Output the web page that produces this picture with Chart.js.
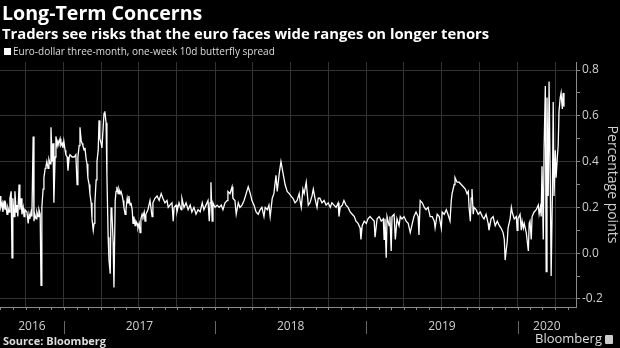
<!DOCTYPE html>
<html>
<head>
<meta charset="utf-8">
<script src="https://cdn.jsdelivr.net/npm/chart.js@4.4.0/dist/chart.umd.min.js"></script>
<style>
  body { margin: 0; background: #000; }
  #wrap { position: relative; width: 620px; height: 348px; overflow: hidden; font-family: 'Open Sans', sans-serif; color: #fff; }
  #chartBox { position: absolute; left: 0; top: 0; width: 620px; height: 348px; }
  .title { position: absolute; left: 2px; top: 0px; font-size: 19.6px; line-height: 26px; font-weight: bold; }
  .subtitle { position: absolute; left: 2px; top: 23px; font-size: 14.8px; line-height: 20px; font-weight: bold; }
  .legend { position: absolute; left: 4px; top: 45px; font-size: 10px; line-height: 13px; color: #ddd; }
  .legend i { display: inline-block; width: 7px; height: 7px; background: #fff; margin-right: 2px; }
  .source { position: absolute; left: 3px; top: 334px; font-size: 11px; line-height: 14px; font-weight: bold; color: #ddd; }
  .logo { position: absolute; right: 7px; top: 330px; font-size: 13px; line-height: 16px; color: #ddd; }
  .logo b { display: inline-block; width: 8px; height: 9px; background: #ccc; border-radius: 1px; margin-left: 3px; vertical-align: -1px; }
</style>
</head>
<body>
<div id="wrap">
  <div id="chartBox"><canvas id="graficoSpread"></canvas></div>
  <div class="title">Long-Term Concerns</div>
  <div class="subtitle">Traders see risks that the euro faces wide ranges on longer tenors</div>
  <div class="legend"><i></i>Euro-dollar three-month, one-week 10d butterfly spread</div>
  <div class="source">Source: Bloomberg</div>
  <div class="logo">Bloomberg<b></b></div>
</div>
<script>
// dias contados a partir de 31/07/2016
const startDate = '2016-07-31';
const endDay = 1390;
const years = [2016, 2017, 2018, 2019, 2020];
const yTicks = [-0.2, -0.1, 0, 0.1, 0.2, 0.3, 0.4, 0.5, 0.6, 0.7, 0.8];

const daysFromStart = [
  0, 2, 5, 7, 10, 12, 14, 17, 19, 22, 24, 27, 29, 31, 34, 36, 39, 41, 43, 46, 48, 51, 53, 56, 58, 60,
  65, 68, 70, 72, 75, 77, 80, 82, 84, 87, 89, 92, 94, 97, 99, 101, 104, 106, 109, 111, 113, 116, 118,
  121, 123, 126, 128, 130, 133, 135, 138, 140, 142, 145, 147, 150, 152, 154, 157, 159, 162, 164, 167,
  169, 174, 179, 183, 186, 188, 191, 193, 196, 198, 200, 203, 205, 208, 210, 212, 215, 217, 220, 222,
  225, 227, 229, 232, 234, 237, 239, 241, 244, 246, 249, 251, 253, 256, 258, 261, 263, 266, 268, 270,
  273, 275, 278, 280, 282, 285, 287, 290, 292, 295, 297, 299, 302, 304, 307, 309, 311, 314, 316, 319,
  321, 323, 326, 328, 331, 333, 336, 338, 340, 343, 345, 348, 350, 352, 357, 362, 367, 369, 374, 379,
  384, 389, 393, 398, 403, 406, 410, 415, 418, 420, 425, 427, 432, 437, 439, 444, 449, 454, 459, 463,
  468, 473, 478, 483, 488, 492, 497, 502, 505, 507, 509, 512, 514, 519, 524, 529, 534, 538, 543, 548,
  550, 555, 560, 562, 567, 570, 575, 579, 584, 589, 594, 599, 604, 608, 613, 618, 623, 628, 632, 637,
  640, 645, 649, 652, 657, 661, 666, 669, 674, 678, 683, 688, 693, 698, 702, 707, 712, 717, 722, 724,
  727, 731, 734, 739, 744, 748, 753, 756, 760, 765, 768, 772, 777, 782, 787, 792, 797, 801, 806, 811,
  816, 818, 821, 826, 830, 835, 840, 845, 850, 855, 859, 864, 869, 871, 874, 879, 884, 888, 893, 898,
  903, 905, 910, 915, 920, 925, 927, 929, 932, 934, 939, 941, 944, 946, 951, 954, 958, 963, 966, 970,
  975, 980, 985, 990, 995, 999, 1004, 1009, 1011, 1014, 1019, 1024, 1028, 1033, 1038, 1043, 1048, 1050,
  1055, 1060, 1065, 1067, 1072, 1077, 1081, 1086, 1089, 1091, 1096, 1098, 1103, 1108, 1113, 1118, 1123,
  1127, 1130, 1132, 1135, 1137, 1139, 1142, 1144, 1149, 1154, 1159, 1164, 1168, 1173, 1178, 1180, 1185,
  1190, 1195, 1200, 1205, 1209, 1214, 1217, 1219, 1222, 1224, 1226, 1231, 1234, 1236, 1241, 1246, 1248,
  1250, 1255, 1258, 1260, 1263, 1265, 1270, 1275, 1277, 1279, 1282, 1284, 1289, 1294, 1299, 1301, 1304,
  1306, 1308, 1311, 1313, 1316, 1318, 1320, 1323, 1325, 1328, 1330, 1333, 1335, 1337, 1340, 1342, 1345,
  1347, 1349, 1352, 1354, 1357, 1359, 1361
];

const spread = [
  0.25, 0.20, 0.22, 0.18, 0.23, 0.19, 0.21, 0.17, 0.20, 0.18, 0.24, 0.27, -0.02, 0.24, 0.16, 0.27, 0.18, 0.21, 0.16, 0.30, 0.19, 0.24, 0.17, 0.20, 0.16, 0.19,
  0.18, 0.13, 0.17, 0.15, 0.18, 0.16, 0.51, 0.14, 0.17, 0.15, 0.18, 0.16, 0.19, 0.17, -0.14, 0.20, 0.28, 0.33, 0.37, 0.38, 0.40, 0.37, 0.41,
  0.39, 0.55, 0.40, 0.48, 0.22, 0.42, 0.51, 0.47, 0.49, 0.48, 0.50, 0.47, 0.48, 0.46, 0.49, 0.45, 0.43, 0.42, 0.36, 0.42,
  0.43, 0.42, 0.42, 0.43, 0.30, 0.42, 0.47, 0.55, 0.49, 0.48, 0.47, 0.45, 0.46, 0.41, 0.39, 0.33, 0.30, 0.26, 0.22, 0.15,
  0.10, 0.13, 0.22, 0.32, 0.40, 0.45, 0.58, 0.50, 0.48, 0.46, 0.55, 0.61, 0.62, 0.57, 0.34, 0.07, -0.03, -0.09, 0.20, 0.18,
  0.05, -0.15, 0.23, 0.27, 0.29, 0.26, 0.28, 0.26, 0.27, 0.25, 0.23, 0.20, 0.17, 0.19, 0.24, 0.22, 0.25, 0.21, 0.22, 0.19,
  0.13, 0.16, 0.12, 0.14, 0.13, 0.11, 0.13, 0.09, 0.15, 0.17, 0.16, 0.18, 0.14, 0.17, 0.19, 0.23, 0.16, 0.22, 0.24, 0.25,
  0.23, 0.26, 0.24, 0.22, 0.23, 0.20, 0.21, 0.22, 0.14, 0.20, 0.21, 0.18, 0.22, 0.19, 0.24, 0.20, 0.22, 0.19, 0.21, 0.18,
  0.20, 0.17, 0.19, 0.18, 0.22, 0.19, 0.21, 0.23, 0.14, 0.22, 0.31, 0.14, 0.22, 0.20, 0.21, 0.20, 0.21, 0.19, 0.22, 0.23,
  0.27, 0.26, 0.29, 0.24, 0.23, 0.17, 0.22, 0.20, 0.21, 0.23, 0.26, 0.29, 0.26, 0.23, 0.21, 0.18, 0.17, 0.19, 0.20, 0.16,
  0.20, 0.19, 0.21, 0.16, 0.24, 0.26, 0.34, 0.27, 0.35, 0.40, 0.35, 0.30, 0.27, 0.26, 0.25, 0.24, 0.22, 0.23, 0.26, 0.23,
  0.20, 0.28, 0.26, 0.31, 0.21, 0.22, 0.25, 0.28, 0.24, 0.20, 0.24, 0.24, 0.22, 0.23, 0.21, 0.22, 0.20, 0.22, 0.21, 0.20,
  0.22, 0.16, 0.20, 0.21, 0.23, 0.21, 0.20, 0.18, 0.17, 0.16, 0.14, 0.13, 0.11, 0.06, 0.12, 0.14, 0.13, 0.15, 0.16, 0.15,
  0.14, 0.07, 0.15, 0.16, 0.14, 0.15, 0.06, 0.15, -0.02, 0.16, 0.12, 0.16, 0.01, 0.16, 0.17, 0.06, 0.15, 0.12, 0.16, 0.15,
  0.16, 0.14, 0.13, 0.09, 0.13, 0.16, 0.18, 0.16, 0.08, 0.23, 0.22, 0.20, 0.19, 0.20, 0.16, 0.16, 0.14, 0.11,
  0.17, 0.16, 0.11, 0.18, 0.17, 0.19, 0.17, 0.14, 0.23, 0.26, 0.30, 0.33, 0.31, 0.31, 0.30, 0.29, 0.28,
  0.26, 0.27, 0.20, 0.14, 0.24, 0.28, 0.17, 0.20, 0.19, 0.17, 0.18, 0.16, 0.15, 0.17, 0.13, 0.10, 0.15,
  0.16, 0.12, 0.14, 0.12, 0.11, 0.09, 0.06, -0.03, 0.02, 0.05, 0.11, 0.15, 0.20, 0.18, 0.15, 0.16, 0.10,
  0.15, 0.17, 0.10, 0.14, 0.11, 0.13, 0.09, 0.01, 0.13, 0.14, 0.06, 0.16, 0.18, 0.19, 0.21, 0.17, 0.20,
  0.16, 0.38, 0.06, 0.46, 0.73, -0.08, 0.68, 0.25, 0.75, 0.30, -0.10, 0.25, 0.66, 0.25, 0.45, 0.33, 0.42,
  0.47, 0.62, 0.68, 0.70, 0.63, 0.70, 0.64
];

document.addEventListener("DOMContentLoaded", () => {
  const ctx = document.getElementById('graficoSpread').getContext('2d');
  const t0 = Date.parse(startDate);
  const diaDe = (ano, mes) => (Date.UTC(ano, mes, 1) - t0) / 86400000;

  const pontos = daysFromStart.map((d, i) => ({ x: d, y: spread[i] }));

  // trimestres para as linhas de grade verticais
  const trimestres = [];
  years.forEach(a => [0, 3, 6, 9].forEach(m => {
    const d = diaDe(a, m);
    if (d > 0 && d < endDay) trimestres.push(d);
  }));

  // eixo de baixo: tracinhos mensais, divisões e rótulos dos anos
  const eixoAnos = {
    id: 'eixoAnos',
    afterDraw(chart) {
      const c = chart.ctx;
      const xs = chart.scales.x;
      const base = chart.chartArea.bottom;
      c.save();
      c.strokeStyle = '#8a8a8a';
      c.lineWidth = 1;
      years.forEach(a => {
        for (let m = 0; m < 12; m++) {
          const d = diaDe(a, m);
          if (d <= 0 || d >= endDay) continue;
          const px = Math.round(xs.getPixelForValue(d)) + 0.5;
          c.beginPath();
          c.moveTo(px, base);
          c.lineTo(px, base + 3);
          c.stroke();
        }
      });
      c.fillStyle = '#cfcfcf';
      c.font = '12px "Open Sans", sans-serif';
      c.textAlign = 'center';
      c.textBaseline = 'middle';
      years.forEach(a => {
        const ini = Math.max(diaDe(a, 0), 0);
        const fim = Math.min(diaDe(a + 1, 0), endDay);
        const p1 = xs.getPixelForValue(ini);
        const p2 = xs.getPixelForValue(fim);
        c.fillText(String(a), (p1 + p2) / 2, 327);
        if (diaDe(a, 0) > 0) {
          const px = Math.round(p1) + 0.5;
          c.strokeStyle = '#666';
          c.beginPath();
          c.moveTo(px, 321);
          c.lineTo(px, 334);
          c.stroke();
        }
      });
      c.restore();
    }
  };

  new Chart(ctx, {
    type: 'line',
    data: {
      datasets: [{
        label: 'Euro-dollar three-month, one-week 10d butterfly spread',
        data: pontos,
        borderColor: '#ffffff',
        borderWidth: 1.3,
        pointRadius: 0,
        tension: 0
      }]
    },
    options: {
      responsive: true,
      maintainAspectRatio: false,
      animation: false,
      layout: { padding: { top: 62, left: 0, right: 0, bottom: 0 } },
      plugins: { legend: { display: false }, tooltip: { enabled: false } },
      scales: {
        x: {
          type: 'linear',
          min: 0,
          max: endDay,
          afterBuildTicks: s => { s.ticks = trimestres.map(v => ({ value: v })); },
          afterFit: s => { s.height = 41; },
          ticks: { display: false },
          grid: { color: '#333', drawTicks: false },
          border: { display: true, color: '#8a8a8a' }
        },
        y: {
          position: 'right',
          min: -0.235,
          max: 0.835,
          afterBuildTicks: s => { s.ticks = yTicks.map(v => ({ value: v })); },
          afterFit: s => { s.width = 44; },
          ticks: {
            autoSkip: false,
            padding: 2,
            color: '#cfcfcf',
            font: { family: 'Open Sans', size: 12 },
            callback: v => (Math.round(v * 10) % 2 === 0 ? v.toFixed(1) : '')
          },
          grid: {
            color: c => (Math.round(c.tick.value * 10) % 2 === 0 ? '#333' : 'rgba(0,0,0,0)'),
            tickColor: '#8a8a8a',
            tickLength: 4
          },
          border: { display: true, color: '#8a8a8a' },
          title: {
            display: true,
            text: 'Percentage points',
            color: '#cfcfcf',
            font: { family: 'Open Sans', size: 14 },
            padding: { top: 0, bottom: 2 }
          }
        }
      }
    },
    plugins: [eixoAnos]
  });
});
</script>
</body>
</html>
